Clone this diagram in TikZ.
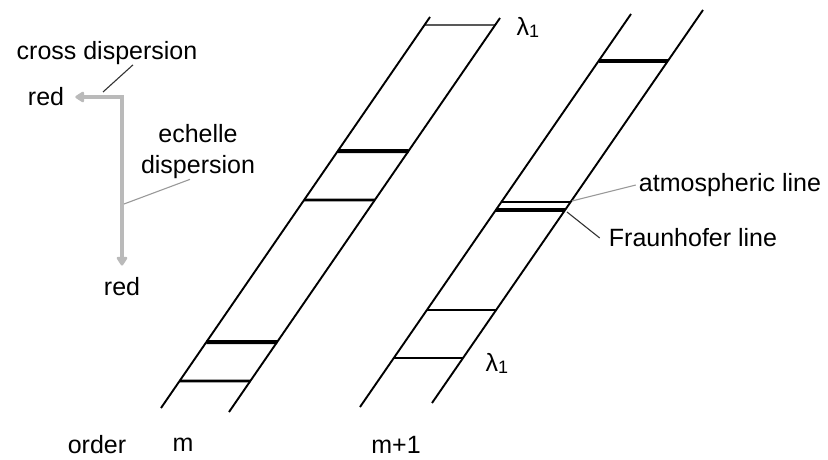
\documentclass[tikz,border=0pt]{standalone}
\usepackage{fontspec}
\setmainfont{Liberation Sans}
\usetikzlibrary{arrows.meta,positioning}

\begin{document}
\begin{tikzpicture}[
  x=1pt, y=-1pt,
  font=\fontsize{25}{31}\selectfont,
  txt/.style={inner sep=0pt, align=center},
  edge/.style={line width=1.9pt, draw=black},
  thinline/.style={line width=1.4pt},
  midline/.style={line width=2.6pt},
  thickline/.style={line width=4pt},
  arrow/.style={{Triangle[length=10pt,width=12pt,round]}-{Triangle[length=10pt,width=12pt,round]},
    line width=3.8pt, draw=black!27},
  leader/.style={line width=1.1pt, draw=black!80},
  leadergray/.style={line width=1.1pt, draw=black!40}
]
  \useasboundingbox (0,0) rectangle (828,460);

  \coordinate (mlt) at (430,17);
  \coordinate (mlb) at (161,408);
  \coordinate (mrt) at (500,18);
  \coordinate (mrb) at (229,412);
  \coordinate (nlt) at (631,14);
  \coordinate (nlb) at (360,407);
  \coordinate (nrt) at (703,10);
  \coordinate (nrb) at (432,403);

  \draw[edge] (mlt) -- (mlb);
  \draw[edge] (mrt) -- (mrb);
  \draw[edge] (nlt) -- (nlb);
  \draw[edge] (nrt) -- (nrb);

  \foreach \yy/\w in {25/thinline,151/thickline,200/midline,342/thickline,381/midline}
    \draw[\w] (intersection of mlt--mlb and 0,\yy--1,\yy)
      -- (intersection of mrt--mrb and 0,\yy--1,\yy);
  \foreach \yy/\w in {61/thickline,202/thinline,210/thickline,310/midline,358/thinline}
    \draw[\w] (intersection of nlt--nlb and 0,\yy--1,\yy)
      -- (intersection of nrt--nrb and 0,\yy--1,\yy);

  \node[txt] (lamtop) at (528,27) {λ\raisebox{-2pt}{\fontsize{18}{18}\selectfont 1}};
  \node[txt] (lambot) at (497,363) {λ\raisebox{-2pt}{\fontsize{18}{18}\selectfont 1}};

  \node[txt] (cross) at (107,53) {cross dispersion};
  \node[txt] (redtop) at (46,97) {red};
  \node[txt] (redbot) at (122,287) {red};
  \node[txt] (echelle) at (198,152) {echelle\\dispersion};
  \node[txt, inner sep=3pt] (atmos) at (730,185) {atmospheric line};
  \node[txt, inner sep=3pt] (fraun) at (693,238) {Fraunhofer line};

  \node[txt] (order) at (97,445) {order};
  \node[txt] (ordm) at (183,445) {m};
  \node[txt] (ordn) at (396,445) {m+1};

  \coordinate (crosstip) at (103,92);
  \coordinate (echelletip) at (124,204);
  \coordinate (atmostip) at (572,201);
  \coordinate (frauntip) at (567,212);

  \draw[arrow, shorten <=11pt, shorten >=12pt] (redtop.east) -| (redbot.north);
  \draw[leader] ([xshift=26pt]cross.south) -- (crosstip);
  \draw[leadergray] ([xshift=-8pt]echelle.south) -- (echelletip);
  \draw[leadergray] (atmos.west) -- (atmostip);
  \draw[leader] ([xshift=-6pt]fraun.west) -- (frauntip);
\end{tikzpicture}
\end{document}
